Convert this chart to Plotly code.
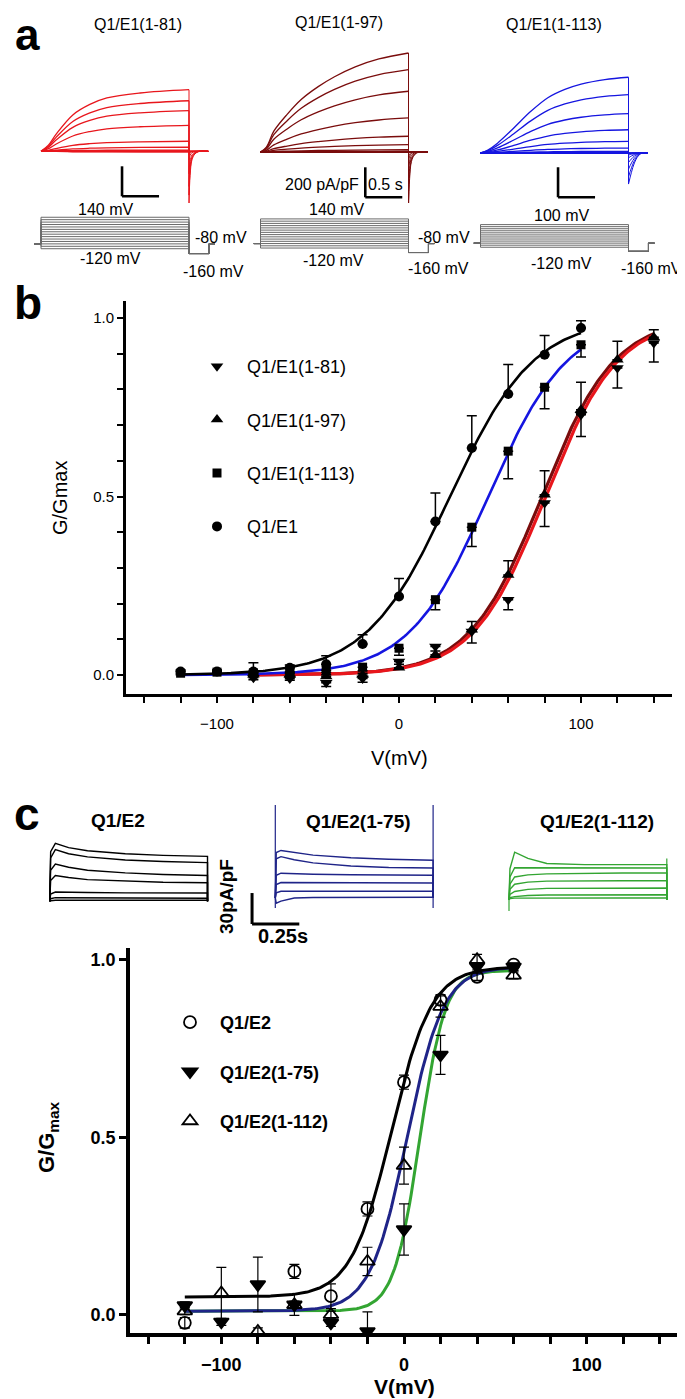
import numpy as np
import plotly.graph_objects as go

W, H = 685, 1399
FONT = "Liberation Sans, Arial, Helvetica, sans-serif"

# ============================ DATA ============================
# ---- panel a : example KCNQ1/KCNE1 currents (pA/pF) ----
step_t = 2.0                      # s, test pulse duration
v_steps_81 = [-120, -100, -80, -60, -40, -20, 0, 20, 40, 60, 80, 100, 120, 140]
amp_81 = [-3, -2, -2, -1, 0, 1, 3, 8, 27, 67, 173, 271, 337, 411]
v_steps_97 = [-120, -100, -80, -60, -40, -20, 0, 20, 40, 60, 80, 100, 120, 140]
amp_97 = [-3, -2, -2, -1, 0, 2, 5, 15, 49, 105, 227, 405, 549, 660]
v_steps_113 = [-120, -100, -80, -60, -40, -20, 0, 20, 40, 60, 80, 100]
amp_113 = [-2, -1, 0, 1, 4, 11, 33, 78, 155, 262, 389, 505]

act_t_81 = [0, 0.1, 0.2, 0.43, 0.66, 0.89, 1.34, 2.0]
act_f_81 = [0, 0.1, 0.27, 0.59, 0.76, 0.865, 0.946, 1.0]
act_t_97 = [0, 0.08, 0.18, 0.36, 0.55, 0.78, 1.0, 1.28, 1.6, 2.0]
act_f_97 = [0, 0.05, 0.21, 0.38, 0.53, 0.66, 0.76, 0.86, 0.94, 1.0]
act_t_113 = [0, 0.1, 0.23, 0.45, 0.68, 0.91, 1.14, 1.36, 1.68, 2.0]
act_f_113 = [0, 0.04, 0.13, 0.33, 0.55, 0.73, 0.84, 0.91, 0.97, 1.0]

# tail currents at -160 mV (largest inward peak, pA/pF) and normalised decay
tail_peak_81, tail_peak_97, tail_peak_113 = 356, 395, 207
tail_dt_fast = [0, 0.015, 0.04, 0.08, 0.14, 0.26]
tail_f_fast = [1, 0.45, 0.16, 0.05, 0.0, 0.0]
tail_dt_slow = [0, 0.04, 0.08, 0.13, 0.18, 0.26]
tail_f_slow = [1, 0.62, 0.32, 0.1, 0.0, 0.0]

# voltage protocol
hold_mv, tail_mv = -80, -160
prot_t = [-0.09, 0, 0, 2.0, 2.0, 2.27, 2.27, 2.35]

# scale bars
sb_current_a, sb_time_a = 200, 0.5     # pA/pF, s
sb_current_c, sb_time_c = 30, 0.25

# ---- panel b : G/Gmax - V ----
v_b_a = [-120, -100, -80, -60, -40, -20, 0, 20, 40, 60, 80, 100]
g_e1 = [0.01, 0.01, 0.01, 0.02, 0.03, 0.087, 0.22, 0.43, 0.636, 0.787, 0.897, 0.972]
e_e1 = [0.004, 0.004, 0.024, 0.008, 0.024, 0.026, 0.05, 0.08, 0.09, 0.083, 0.054, 0.02]
g_113 = [0.005, 0.008, 0.006, 0.01, 0.013, 0.022, 0.075, 0.211, 0.414, 0.627, 0.806, 0.925]
e_113 = [0.004, 0.004, 0.004, 0.004, 0.005, 0.01, 0.02, 0.028, 0.054, 0.077, 0.06, 0.034]
v_b_r = [-80, -60, -40, -20, 0, 20, 40, 60, 80, 100, 120, 140]
g_97 = [0.001, 0.0, -0.004, 0.0, 0.02, 0.057, 0.127, 0.28, 0.505, 0.743, 0.883, 0.946]
e_97 = [0.005, 0.005, 0.005, 0.005, 0.01, 0.01, 0.023, 0.04, 0.067, 0.077, 0.052, 0.021]
g_81 = [-0.008, -0.01, -0.022, -0.01, 0.038, 0.08, 0.122, 0.211, 0.482, 0.729, 0.86, 0.93]
e_81 = [0.005, 0.005, 0.01, 0.01, 0.02, 0.03, 0.032, 0.028, 0.066, 0.061, 0.056, 0.053]
# Boltzmann fits: (Vmin, Vmax, A1, A2, V1/2, k)
fit_e1 = (-120, 100, 0.0, 1.0, 28, 23)
fit_113 = (-120, 100, 0.0, 1.0, 49, 21.8)
fit_97 = (-80, 140, 0.0, 1.0, 78.5, 20)
fit_81 = (-80, 140, 0.0, 1.0, 80.5, 20)

# ---- panel c : example KCNQ1/KCNE2 currents (pA/pF) ----
c_dur = 0.835
c_t = [0, 0.005, 0.03, 0.1, 0.2, 0.4, 0.6, 0.835]
c_e2 = [[0, 48, 56, 52, 49, 46, 44.5, 43.5],
        [0, 42, 50, 46, 43, 40, 38.5, 37.5],
        [0, 30, 36, 33, 30, 27.5, 26, 25],
        [0, 20, 25, 23, 21, 19.5, 18.5, 18],
        [0, 7, 9, 9, 8.5, 8.2, 8, 8],
        [0, 2.5, 3.5, 3.5, 3.2, 3, 3, 3],
        [0, 0.5, 1, 1, 1, 1, 1, 1]]
c_75 = [[0, 44, 46, 44, 41.5, 39, 37.5, 36.5],
        [0, 38, 40, 37, 34, 31, 29.5, 29],
        [0, 22, 24, 23.5, 23, 22.5, 22, 22],
        [0, 13, 15, 15, 14.8, 14.6, 14.5, 14.5],
        [0, 5, 6.5, 6.5, 6.5, 6.5, 6.5, 6.5],
        [0, -5, -3, 0, 0.5, 0.7, 0.7, 0.7]]
c_75_cap = (-9.7, 90)
c_112 = [[0, 30, 46, 40, 35, 34, 34, 34],
         [0, 22, 31, 31, 31, 31, 30.7, 30.7],
         [0, 15, 22, 24, 25, 25.5, 25.8, 25.8],
         [0, 10, 15, 17, 18, 18.4, 18.4, 18.4],
         [0, 5, 8, 10, 11, 11.3, 11.3, 11.3],
         [0, 2, 3, 4, 4.5, 4.8, 4.8, 4.8],
         [0, 1, 1.5, 1.6, 1.6, 1.6, 1.6, 1.6]]
c_112_cap = (-11, 40)

# ---- panel c : G/Gmax - V ----
v_c_e2 = [-120, -60, -40, -20, 0, 20, 40, 60]
g_c_e2 = [-0.023, 0.122, 0.052, 0.298, 0.655, 0.887, 0.952, 0.986]
e_c_e2 = [0.015, 0.02, 0.035, 0.02, 0.02, 0.015, 0.01, 0.005]
v_c = [-120, -100, -80, -60, -40, -20, 0, 20, 40, 60]
g_c_75 = [0.026, -0.02, 0.085, 0.028, -0.023, -0.047, 0.24, 0.732, 0.981, 0.98]
e_c_75 = [0.01, 0.01, 0.077, 0.03, 0.01, 0.055, 0.072, 0.055, 0.01, 0.01]
g_c_112 = [0.01, 0.061, -0.047, 0.028, 0.0, 0.15, 0.42, 0.868, 1.0, 0.956]
e_c_112 = [0.01, 0.072, 0.01, 0.01, 0.01, 0.04, 0.052, 0.03, 0.015, 0.01]
fit_c_black = (-120, 60, 0.05, 0.98, -7, 11)
fit_c_navy = (-120, 60, 0.01, 0.98, 1.5, 10)
fit_c_green = (-120, 60, 0.01, 0.97, 8.5, 7)

RED, DRED, BLUE = "#e8161c", "#7a0c0c", "#1515e0"
NAVY, GREEN = "#1f2488", "#33a532"

# ============================ FIGURE ============================
fig = go.Figure()
axes = {}


def px_axes(n, box, xmap, ymap):
    l, r, t, b = box
    x0, sx = xmap
    y0, sy = ymap
    s = str(n)
    axes["xaxis" + s] = dict(domain=[l / W, r / W], range=[(l - x0) / sx, (r - x0) / sx],
                             visible=False, anchor="y" + s, fixedrange=True)
    axes["yaxis" + s] = dict(domain=[1 - b / H, 1 - t / H], range=[(y0 - b) / sy, (y0 - t) / sy],
                             visible=False, anchor="x" + s, fixedrange=True)


def line(x, y, n, color, width=1.2, shape="linear"):
    sfx = "" if n == 1 else str(n)
    fig.add_trace(go.Scatter(x=x, y=y, mode="lines", xaxis="x" + sfx, yaxis="y" + sfx,
                             line=dict(color=color, width=width, shape=shape),
                             showlegend=False, hoverinfo="skip", connectgaps=False))


def boltz(fit):
    vmin, vmax, a1, a2, vh, k = fit
    v = np.linspace(vmin, vmax, 200)
    return v, a1 + (a2 - a1) / (1 + np.exp((vh - v) / k))


PXS = 74.0      # px per second (panel a)
PXI = 0.15      # px per pA/pF (panel a)

panel_a = [
    (3, 6, amp_81, act_t_81, act_f_81, tail_peak_81, tail_dt_fast, tail_f_fast, RED,
     (15, 228), 33.0, 143.3, 226.2, 0.121, v_steps_81),
    (4, 7, amp_97, act_t_97, act_f_97, tail_peak_97, tail_dt_fast, tail_f_fast, DRED,
     (235, 455), 252.5, 144.0, 226.6, 0.112, v_steps_97),
    (5, 8, amp_113, act_t_113, act_f_113, tail_peak_113, tail_dt_slow, tail_f_slow, BLUE,
     (458, 680), 472.5, 145.0, 226.9, 0.103, v_steps_113),
]
sb_corner_a = [(1.095, -300), (1.416, -302), (1.048, -295)]

shapes = []
for (na, npr, amps, at, af, tp, tdt, tf, col, (xl, xr), t0, base, pv0, psy, steps), corner in zip(panel_a, sb_corner_a):
    px_axes(na, (xl, xr, 30, 212), (t0, PXS), (base, PXI))
    px_axes(npr, (xl, xr, 195, 262), (t0, PXS), (pv0, psy))
    amax = max(amps)
    xs, ys, dx, dy, tx, ty = [], [], [], [], [], []
    for a in amps:
        xs += list(at) + [None]
        ys += [a * f for f in af] + [None]
        tail = tp * max(a, 0) / amax
        dx += [step_t, step_t, None]
        dy += [a, -tail, None]
        tx += [step_t + d for d in tdt] + [None]
        ty += [-tail * f for f in tf] + [None]
    line(xs, ys, na, col, 1.3, "spline")
    line(dx, dy, na, col, 1.0)
    line(tx, ty, na, col, 1.0, "spline")
    px_, py_ = [], []
    for v in steps:
        px_ += prot_t + [None]
        py_ += [hold_mv, hold_mv, v, v, tail_mv, tail_mv, hold_mv, hold_mv, None]
    line(px_, py_, npr, "#6a6a6a", 1.0)
    cx, cy = corner
    shapes.append(dict(type="line", xref=f"x{na}", yref=f"y{na}", x0=cx, x1=cx, y0=cy, y1=cy + sb_current_a,
                       line=dict(color="black", width=2.6)))
    shapes.append(dict(type="line", xref=f"x{na}", yref=f"y{na}", x0=cx, x1=cx + sb_time_a, y0=cy, y1=cy,
                       line=dict(color="black", width=2.6)))

# ---- panel c traces ----
PXS_C, PXI_C = 189.0, 1.033
panel_c = [(9, c_e2, "black", (28, 212), 41.7, 893.3, None),
           (10, c_75, NAVY, (232, 445), 267.3, 890.0, c_75_cap),
           (11, c_112, GREEN, (488, 680), 501.0, 891.7, c_112_cap)]
for n, sweeps, col, (xl, xr), t0, base, cap in panel_c:
    px_axes(n, (xl, xr, 785, 940), (t0, PXS_C), (base, PXI_C))
    xs, ys = [], []
    for s in sweeps:
        xs += list(c_t) + [c_dur, None]
        ys += list(s) + [0, None]
    line(xs, ys, n, col, 1.4)
    if cap is not None:
        if n == 10:
            line([0, 0, None, c_dur, c_dur], [cap[0], cap[1], None, cap[0], cap[1]], n, col, 1.2)
        else:
            line([0, 0, None, c_dur, c_dur], [0, cap[0], None, 0, cap[1]], n, col, 1.2)
cx, cy = (-0.123, -25.2)
shapes.append(dict(type="line", xref="x10", yref="y10", x0=cx, x1=cx, y0=cy, y1=cy + sb_current_c,
                   line=dict(color="black", width=3)))
shapes.append(dict(type="line", xref="x10", yref="y10", x0=cx, x1=cx + sb_time_c, y0=cy, y1=cy,
                   line=dict(color="black", width=3)))

# ---- panel b ----
for fit, col, w in [(fit_97, DRED, 3.2), (fit_81, RED, 3.2), (fit_113, BLUE, 2.6), (fit_e1, "black", 2.6)]:
    v, g = boltz(fit)
    line(v, g, 1, col, w)

series_b = [
    ("Q1/E1(1-81)", v_b_r, g_81, e_81, "triangle-down", 11, "down"),
    ("Q1/E1(1-97)", v_b_r, g_97, e_97, "triangle-up", 11, "up"),
    ("Q1/E1(1-113)", v_b_a, g_113, e_113, "square", 9, "down"),
    ("Q1/E1", v_b_a, g_e1, e_e1, "circle", 10, "up"),
]
for name, v, g, e, sym, sz, d in series_b:
    zeros = [0] * len(e)
    err = dict(type="data", symmetric=False, array=e if d == "up" else zeros,
               arrayminus=zeros if d == "up" else e, color="black", thickness=1.5, width=5)
    fig.add_trace(go.Scatter(x=v, y=g, mode="markers", name=name, legendgroup=name, legend="legend",
                             marker=dict(symbol=sym, size=sz, color="black"), error_y=err,
                             xaxis="x", yaxis="y", hoverinfo="skip"))

# ---- panel c ----
for fit, col in [(fit_c_green, GREEN), (fit_c_navy, NAVY), (fit_c_black, "black")]:
    v, g = boltz(fit)
    line(v, g, 2, col, 3.0)

series_c = [
    ("Q1/E2", v_c_e2, g_c_e2, e_c_e2, "circle-open", 12),
    ("Q1/E2(1-75)", v_c, g_c_75, e_c_75, "triangle-down", 13),
    ("Q1/E2(1-112)", v_c, g_c_112, e_c_112, "triangle-up-open", 13),
]
for name, v, g, e, sym, sz in series_c:
    fig.add_trace(go.Scatter(x=v, y=g, mode="markers", name=name, legendgroup=name, legend="legend2",
                             marker=dict(symbol=sym, size=sz, color="black", line=dict(color="black", width=1.8)),
                             error_y=dict(type="data", array=e, color="black", thickness=1.2, width=5),
                             xaxis="x2", yaxis="y2", hoverinfo="skip"))

# ---- main axes ----
x_major = [-100, 0, 100]
y_major = [0.0, 0.5, 1.0]


def main_axes(lw, tl, tw, fsize, bold, standoff=None):
    ax = dict(showline=True, linewidth=lw, linecolor="black", ticks="outside", ticklen=tl, tickwidth=tw,
              tickcolor="black", showgrid=False, zeroline=False, fixedrange=True,
              tickfont=dict(family=FONT, size=fsize, color="black", weight="bold" if bold else "normal"))
    if standoff is not None:
        ax["ticklabelstandoff"] = standoff
    return ax


axes["xaxis"] = dict(main_axes(3, 6, 2, 15, False, 8), domain=[118 / W, 664 / W], range=[-150, 150],
                     anchor="y", tickvals=x_major,
                     minor=dict(dtick=20, tick0=0, ticks="outside", ticklen=6, tickwidth=2, tickcolor="black",
                                showgrid=False))
axes["yaxis"] = dict(main_axes(3, 6, 2, 15, False), domain=[1 - 686 / H, 1 - 293 / H],
                     range=[-0.0532, 1.0476], anchor="x", tickvals=y_major, tickformat=".1f",
                     minor=dict(dtick=0.1, tick0=0, ticks="outside", ticklen=6, tickwidth=2, tickcolor="black",
                                showgrid=False))
axes["xaxis2"] = dict(main_axes(3.5, 7, 2.5, 18, True, 6), domain=[122 / W, 670 / W], range=[-150, 150],
                      anchor="y2", tickvals=x_major,
                      minor=dict(dtick=20, tick0=0, ticks="outside", ticklen=7, tickwidth=2.5, tickcolor="black",
                                 showgrid=False))
axes["yaxis2"] = dict(main_axes(3.5, 7, 2.5, 18, True), domain=[1 - 1325 / H, 1 - 933 / H],
                      range=[-0.0516, 1.0527], anchor="x2", tickvals=y_major, tickformat=".1f")

# ---- text ----
anns = []


def txt(s, x, y, size, bold=False, xanchor="center", angle=0, yanchor="middle"):
    anns.append(dict(text=s, x=x / W, y=1 - y / H, xref="paper", yref="paper", showarrow=False,
                     xanchor=xanchor, yanchor=yanchor, textangle=angle,
                     font=dict(family=FONT, size=size, color="black", weight="bold" if bold else "normal")))


txt("a", 5, 0, 44, True, xanchor="left", yanchor="top")
txt("b", 20, 295, 46, True)
txt("c", 19, 806, 46, True)
txt("Q1/E1(1-81)", 130, 17, 16)
txt("Q1/E1(1-97)", 331, 15, 16)
txt("Q1/E1(1-113)", 546, 17, 16)
for s, x, y in [("140 mV", 97, 201), ("-120 mV", 102, 251), ("-80 mV", 213, 230), ("-160 mV", 205, 263),
                ("140 mV", 328, 201), ("-120 mV", 325, 252), ("-80 mV", 436, 230), ("-160 mV", 430, 261),
                ("100 mV", 553, 207), ("-120 mV", 553, 256), ("-160 mV", 643, 261)]:
    txt(s, x, y, 16)
txt("200 pA/pF", 353, 177, 16, xanchor="right")
txt("0.5 s", 358, 177, 16, xanchor="left")
txt("V(mV)", 391, 750, 20)
txt("G/Gmax", 52, 490, 20, angle=-90)
txt("Q1/E2", 110, 812, 19, True)
txt("Q1/E2(1-75)", 350, 814, 19, True)
txt("Q1/E2(1-112)", 589, 814, 19, True)
txt("30pA/pF", 218, 889, 19, True, angle=-90)
txt("0.25s", 275, 928, 20, True)
txt("V(mV)", 396, 1378, 21, True)
txt("G/G<sub>max</sub>", 40, 1129, 22, True, angle=-90)

fig.update_layout(
    width=W, height=H, autosize=False, margin=dict(l=0, r=0, t=0, b=0),
    paper_bgcolor="white", plot_bgcolor="white",
    font=dict(family=FONT, color="black"),
    annotations=anns, shapes=shapes,
    legend=dict(x=179 / W, y=1 - 340 / H, xanchor="left", yanchor="top", bgcolor="rgba(0,0,0,0)",
                font=dict(family=FONT, size=18, color="black"), itemwidth=50, traceorder="grouped",
                tracegroupgap=27),
    legend2=dict(x=152 / W, y=1 - 996 / H, xanchor="left", yanchor="top", bgcolor="rgba(0,0,0,0)",
                 font=dict(family=FONT, size=18, color="black", weight="bold"), itemwidth=50,
                 traceorder="grouped", tracegroupgap=23),
    showlegend=True,
    **axes,
)

fig.write_html("out.html")
